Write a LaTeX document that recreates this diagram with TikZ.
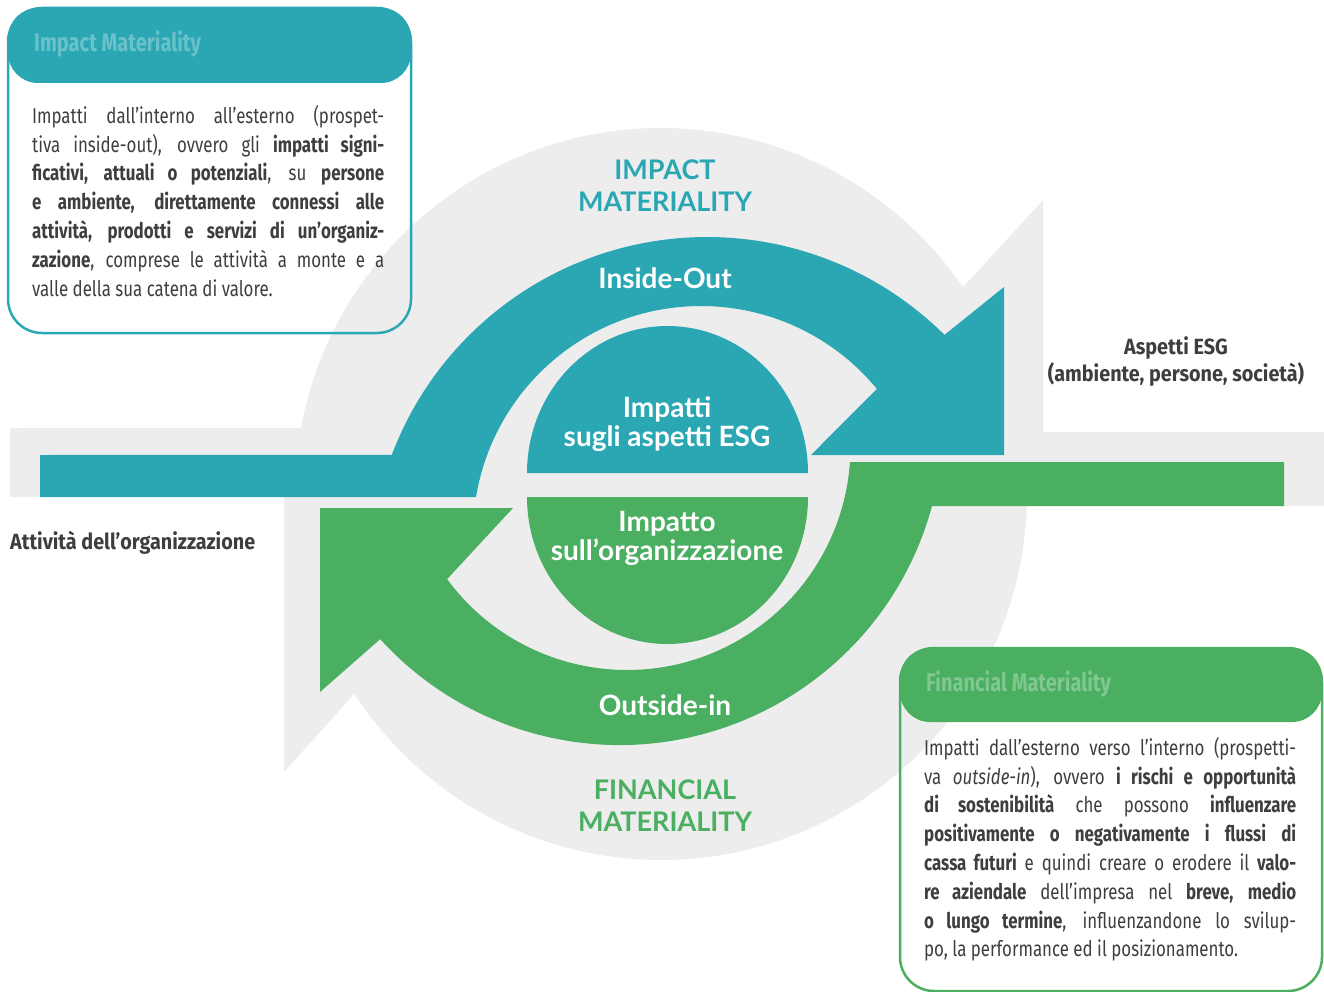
\documentclass[tikz,border=0pt]{standalone}
\usepackage{fontspec}
\setmainfont{Fira Sans}[FakeStretch=0.785]
\newfontfamily\headfont{Lato}
\newfontfamily\labelfont{Fira Sans}[FakeStretch=0.9]
\usetikzlibrary{calc}

\definecolor{impteal}{RGB}{43,167,180}
\definecolor{fingreen}{RGB}{74,175,96}
\definecolor{halogrey}{RGB}{237,237,237}
\definecolor{bodygrey}{RGB}{62,62,62}

\begin{document}
\begin{tikzpicture}[x=1pt,y=-1pt,
    bodytext/.style={anchor=north west, inner sep=0pt, align=justify, text=bodygrey,
        font=\fontsize{21.5}{28.8}\selectfont},
    boxtitle/.style={anchor=west, inner sep=0pt, font=\bfseries\fontsize{25.5}{28}\selectfont},
    arrowlabel/.style={text=white, align=center, inner sep=0pt,
        font=\headfont\bfseries\fontsize{28}{29}\selectfont},
    headline/.style={align=center, inner sep=0pt, font=\headfont\bfseries\fontsize{27}{32}\selectfont},
    sidelabel/.style={text=bodygrey, inner sep=0pt, font=\labelfont\bfseries\fontsize{22}{27}\selectfont}]
    \useasboundingbox (0,0) rectangle (1324,992);
    \fill[halogrey] (10,428) -- ($(661,494)+(190.4:366)$) arc[start angle=190.4, end angle=325.6, radius=366]
        -- (1043,200) -- (1043,432) -- (1324,432) -- (1324,506)
        -- ($(661,494)+(1.9:366)$) arc[start angle=1.9, end angle=146.9, radius=366]
        -- (284,772) -- (284,497) -- (10,497) -- cycle;
    \fill[impteal] (40,455) -- ($(707,574)+(200.7:337)$) arc[start angle=200.7, end angle=314.8, radius=337]
        -- (1004,287) -- (1004,455) -- (811,455)
        -- ($(701,534)+(320.5:228)$) arc[start angle=320.5, end angle=189.3, radius=228]
        -- (40,497) -- cycle;
    \fill[fingreen] (1284,506) -- ($(619.6,421.3)+(15.2:323.7)$) arc[start angle=15.2, end angle=137.7, radius=323.7]
        -- (320,692) -- (320,508) -- (513,508)
        -- ($(627,446.5)+(143.6:223.5)$) arc[start angle=143.6, end angle=4, radius=223.5]
        -- (1284,462) -- cycle;
    \fill[impteal] (527,473) arc[start angle=180, end angle=360, x radius=140.5, y radius=147] -- cycle;
    \fill[fingreen] (527,497) arc[start angle=180, end angle=0, x radius=140.5, y radius=147] -- cycle;

    \node[headline, text=impteal] (impacthead) at (665,186) {IMPACT\\MATERIALITY};
    \node[arrowlabel] (insideout) at (665,278) {Inside-Out};
    \node[arrowlabel] (esgimpact) at (667,424) {Impatti\\sugli aspetti ESG};
    \node[arrowlabel] (orgimpact) at (667,538) {Impatto\\sull’organizzazione};
    \node[arrowlabel] (outsidein) at (665,705) {Outside-in};
    \node[headline, text=fingreen] (finhead) at (665,806) {FINANCIAL\\MATERIALITY};

    \node[sidelabel, align=center] (esgaspects) at (1176,362) {Aspetti ESG\\(ambiente, persone, società)};
    \node[sidelabel, anchor=west] (orgactivity) at (10,543) {Attività dell’organizzazione};

    \fill[impteal, rounded corners=30] (8,8) rectangle (411,83);
    \draw[impteal, line width=2.5, rounded corners=34] (8,8) rectangle (411,333);
    \node[boxtitle, text=impteal!70!white] (impacttitle) at (34,44) {Impact Materiality};
    \node[bodytext, text width=352pt] (impactbody) at (32,105) {Impatti dall’interno all’esterno (prospet-\linebreak
        tiva inside-out), ovvero gli \textbf{impatti signi-}\linebreak
        \textbf{ficativi, attuali o potenziali}, su \textbf{persone}\linebreak
        \textbf{e ambiente, direttamente connessi alle}\linebreak
        \textbf{attività, prodotti e servizi di un’organiz-}\linebreak
        \textbf{zazione}, comprese le attività a monte e a\linebreak
        valle della sua catena di valore.};

    \fill[fingreen, rounded corners=30] (900,648) rectangle (1322,722);
    \draw[fingreen, line width=2.5, rounded corners=34] (900,648) rectangle (1322,991);
    \node[boxtitle, text=fingreen!70!white] (fintitle) at (926,684) {Financial Materiality};
    \node[bodytext, text width=372pt] (finbody) at (924,737) {Impatti dall’esterno verso l’interno (prospetti-\linebreak
        va \textit{outside-in}), ovvero \textbf{i rischi e opportunità}\linebreak
        \textbf{di sostenibilità} che possono \textbf{influenzare}\linebreak
        \textbf{positivamente o negativamente i flussi di}\linebreak
        \textbf{cassa futuri} e quindi creare o erodere il \textbf{valo-}\linebreak
        \textbf{re aziendale} dell’impresa nel \textbf{breve, medio}\linebreak
        \textbf{o lungo termine}, influenzandone lo svilup-\linebreak
        po, la performance ed il posizionamento.};
\end{tikzpicture}
\end{document}
